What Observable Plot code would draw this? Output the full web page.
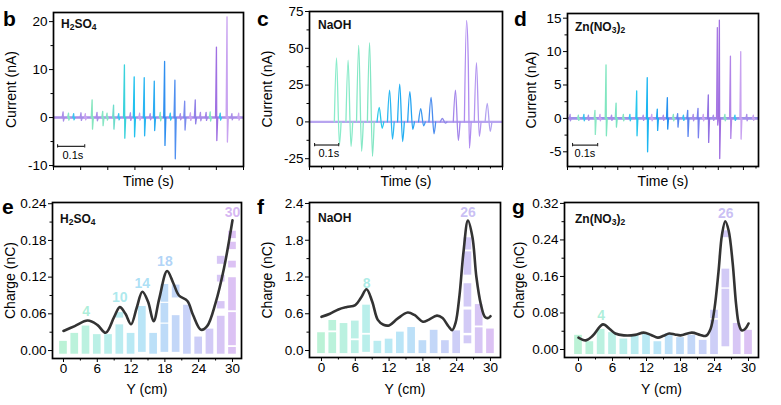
<!DOCTYPE html>
<html><head><meta charset="utf-8">
<script src="https://cdn.jsdelivr.net/npm/d3@7"></script>
<script src="https://cdn.jsdelivr.net/npm/@observablehq/plot@0.6"></script>
<style>
body{margin:0;background:#fff;}
#fig{position:relative;width:781px;height:405px;overflow:hidden;background:#fff;font-family:"Liberation Sans",Arial,Helvetica,sans-serif;}
.panel{position:absolute;}
.panel svg{background:transparent;overflow:visible;}
.letter{position:absolute;font-weight:bold;font-size:21px;line-height:21px;color:#000;}
.tag{position:absolute;font-weight:bold;font-size:12px;line-height:12px;color:#111;white-space:nowrap;}
.tag sub{font-size:8.5px;vertical-align:-2px;line-height:0;}
</style></head><body><div id="fig"></div>
<script>
// ---------- top row: current traces ----------
const bTime   = [0.143,0.182,0.222,0.262,0.298,0.335,0.372,0.410,0.448,0.484,0.523,0.563,0.601,0.640];
const bPeak   = [3.7,1.3,2.6,11.0,8.5,8.3,7.6,11.7,7.8,3.4,3.7,1.1,14.7,21.0];
const bTrough = [-2.4,-1.7,-2.4,-4.3,-4.0,-3.8,-2.7,-5.8,-8.6,-2.6,-1.3,-0.6,-4.8,-5.1];
const bRippleTime = [0.036,0.056,0.075,0.102,0.118,0.161,0.198,0.241,0.284,0.318,0.357,0.394,0.431,0.468,0.505,0.542,0.578,0.615,0.658,0.683];
const bRippleAmp  = [1.2,0.9,0.8,1.0,0.8,1.1,0.9,0.8,1.0,0.9,0.8,1.1,0.9,0.8,1.0,1.1,1.2,0.9,0.8,0.9];

const cTime   = [0.112,0.160,0.204,0.249,0.289,0.332,0.374,0.416,0.461,0.504,0.551,0.605,0.651,0.692,0.737];
const cPeak   = [43.5,41.9,52.0,53.8,9.9,21.6,25.7,20.5,9.0,16.7,2.3,21.6,68.9,40.3,12.6];
const cShoulder = [null,null,null,null,null,null,null,null,null,null,null,null,41.9,null,null];
const cTrough = [-15.5,-16.7,-20.0,-23.4,-4.3,-11.7,-13.3,-5.0,-2.7,-8.1,-0.9,-12.6,-17.8,-9.9,-6.5];

const dTime   = [0.110,0.154,0.194,0.276,0.318,0.358,0.398,0.439,0.479,0.520,0.561,0.597,0.605,0.649,0.690];
const dPeak   = [1.2,8.0,2.3,4.1,6.1,1.4,3.1,0.7,1.2,1.5,3.5,13.6,14.7,9.3,10.0];
const dTrough = [-2.4,-2.6,-1.3,-2.6,-5.0,-1.8,-1.6,-1.3,-2.7,-2.9,-3.6,-1.0,-6.0,-3.0,-3.1];
const dRippleTime = [0.011,0.044,0.066,0.084,0.130,0.176,0.223,0.249,0.302,0.336,0.382,0.422,0.462,0.501,0.541,0.581,0.627,0.667,0.714,0.740];
const dRippleAmp  = [0.6,0.5,0.6,0.5,0.6,0.5,0.6,0.6,0.5,0.6,0.5,0.6,0.5,0.6,0.6,0.5,0.6,0.5,0.6,0.5];

const scaleBarLabel = "0.1s";

// ---------- bottom row: charge vs Y ----------
const yPositions = [0,2,4,6,8,10,12,14,16,18,20,22,24,26,28,30];
const eSegments = [
  [[-0.006,0.015]],[[-0.006,0.028]],[[-0.006,0.040]],[[-0.006,0.026]],[[-0.006,0.026]],
  [[-0.006,0.042],[0.053,0.062]],[[-0.006,0.028]],[[-0.003,0.072]],[[-0.006,0.028]],
  [[-0.003,0.043],[0.045,0.077],[0.079,0.108]],[[-0.003,0.057],[0.086,0.107]],
  [[-0.006,0.074]],[[-0.006,0.022]],[[-0.006,0.035]],
  [[-0.006,0.056],[0.068,0.080],[0.112,0.123],[0.141,0.154]],
  [[-0.006,0.005],[0.008,0.062],[0.065,0.119],[0.135,0.146],[0.165,0.177],[0.183,0.195]]
];
const eCurveX = [0,2,4.3,6,7.5,9,10,11,12,13,14,15,16,17,18.4,19.5,20.5,22,23,24.4,25.5,27,28.5,30];
const eCurveY = [0.032,0.040,0.049,0.042,0.029,0.055,0.071,0.060,0.043,0.070,0.096,0.080,0.048,0.085,0.130,0.110,0.090,0.081,0.058,0.034,0.040,0.078,0.135,0.213];
const eLabelX = [4,10,14,18,30];
const eLabelY = [0.063,0.086,0.110,0.146,0.226];

const fSegments = [
  [[-0.05,0.29]],[[-0.05,0.29],[0.32,0.49]],[[-0.05,0.44]],[[-0.05,0.16],[0.19,0.48]],
  [[-0.03,0.25],[0.28,0.74]],[[-0.05,0.15]],[[-0.05,0.185]],[[-0.05,0.30]],[[-0.05,0.375]],
  [[-0.05,0.16]],[[-0.05,0.33]],[[-0.05,0.16]],[[-0.05,0.32]],
  [[0.11,0.24],[0.28,0.66],[0.71,1.09],[1.23,1.61],[1.64,1.84]],
  [[-0.05,0.37],[0.40,0.75]],[[-0.05,0.35]]
];
const fCurveX = [0,1.5,3,4.5,6,7,8,9,10,11,12,13.5,15.3,16.5,18,19,20.5,21.5,22.5,23.2,23.8,24.5,25.2,26,26.8,27.5,28.3,29,29.6,30];
const fCurveY = [0.55,0.60,0.67,0.71,0.74,0.86,1.00,0.80,0.50,0.42,0.41,0.52,0.62,0.58,0.47,0.50,0.57,0.53,0.40,0.33,0.45,0.90,1.60,2.12,1.85,1.20,0.75,0.55,0.53,0.56];
const fLabelX = [8,26];
const fLabelY = [1.10,2.26];

const gSegments = [
  [[-0.011,0.031]],[[-0.011,0.017]],[[-0.011,0.044]],[[-0.011,0.037]],[[-0.011,0.023]],
  [[-0.011,0.031]],[[-0.011,0.035]],[[-0.011,0.017]],[[-0.011,0.035]],[[-0.011,0.026]],
  [[-0.011,0.031]],[[-0.011,0.020]],[[-0.011,0.064],[0.068,0.086]],
  [[0.006,0.132],[0.135,0.176],[0.245,0.260]],[[-0.011,0.057]],[[-0.011,0.042]]
];
const gCurveX = [0,1.3,2.5,4.3,5.5,6.5,8,10,11.5,12.8,14,15,16,17,18,20,21.5,22.5,23.3,24,24.7,25.3,25.9,26.5,27.2,27.8,28.3,28.8,29.4,30];
const gCurveY = [0.026,0.020,0.030,0.055,0.045,0.035,0.031,0.032,0.037,0.032,0.026,0.030,0.035,0.033,0.031,0.037,0.032,0.030,0.045,0.090,0.170,0.250,0.281,0.260,0.190,0.100,0.055,0.042,0.045,0.057];
const gLabelX = [4,26];
const gLabelY = [0.075,0.298];

// ---------- styles ----------
const FONT = "'Liberation Sans', Arial, Helvetica, sans-serif";
const bColors = ["#86e6bf","#86e6c4","#6ddccb","#3ad2dc","#22c2ee","#2ab6f2","#2cacf2","#2f8ff0","#4f8ff0","#7a8cee","#9282e8","#a283e8","#a070e2","#c8a2f0"];
const cColors = ["#8aeccb","#88eac8","#86e8c6","#84e6c4","#28c8ea","#2cb8f2","#22aef2","#24a4f2","#3c98f0","#4a8cee","#8c88e8","#a486ea","#b08cf0","#b496f0","#b2a2f0"];
const dColors = ["#8ae8c4","#80e6c0","#7ae4c2","#26c6ee","#1cb6f2","#22aaf2","#2692f0","#5c88f0","#5a84f0","#7a80ee","#9272e2","#a878e4","#a070e0","#b184e8","#c8a2f0"];
const rippleColors = ["#a98de8","#86e6c4","#3ac4ee","#a98de8","#c8a2f0"];
const barInterp = d3.interpolateRgbBasis(["#78e6ae","#78e4cc","#72d6ee","#7ab8f4","#9c9cef","#ba86ea"]);

const fig = document.getElementById("fig");
function place(node, left, top) {
  const div = document.createElement("div");
  div.className = "panel";
  div.style.left = left + "px"; div.style.top = top + "px";
  div.appendChild(node); fig.appendChild(div);
}
function html(cls, left, top, inner) {
  const div = document.createElement("div");
  div.className = cls; div.style.left = left + "px"; div.style.top = top + "px";
  div.innerHTML = inner; fig.appendChild(div);
}
const rng = (a, b, s) => d3.range(a, b + s / 2, s);
const sharpShape = (t, p, tr) => [[t - 0.004, 0], [t - 0.0007, p], [t + 0.0007, tr], [t + 0.004, 0]];

function tracePanel(cfg) {
  const rows = [];
  if (cfg.rippleTime) {
    cfg.rippleTime.forEach((t, i) => {
      const a = cfg.rippleAmp[i];
      sharpShape(t, a, -0.6 * a).forEach(([x, v]) => rows.push({x, v, k: "r" + i, c: rippleColors[i % rippleColors.length]}));
    });
  }
  cfg.time.forEach((t, i) => {
    const p = cfg.peak[i], tr = cfg.trough[i];
    const s = cfg.shoulder ? cfg.shoulder[i] : null;
    let pts;
    if (cfg.sharp) pts = sharpShape(t, p, tr);
    else {
      pts = [[t - 0.009, 0], [t, p]];
      if (s != null) pts.push([t + 0.007, s]);
      pts.push([t + 0.012, tr], [t + 0.019, 0]);
    }
    pts.forEach(([x, v]) => rows.push({x, v, k: i, c: cfg.colors[i]}));
  });
  const [sb0, sbY, labX, labY] = cfg.bar;
  return Plot.plot({
    width: cfg.width, height: 195,
    marginLeft: cfg.m[0], marginRight: cfg.m[1], marginTop: cfg.m[2], marginBottom: cfg.m[3],
    style: {fontFamily: FONT, fontSize: "13.5px", color: "#000", background: "transparent"},
    x: {domain: cfg.xDomain},
    y: {domain: cfg.yDomain},
    color: {type: "identity"},
    marks: [
      Plot.ruleY([0], {stroke: cfg.base, strokeWidth: cfg.baseWidth}),
      Plot.line(rows, {x: "x", y: "v", z: "k", stroke: "c", strokeWidth: 1.3, curve: cfg.sharp ? "linear" : "monotone-x", clip: true}),
      Plot.ruleY([0], {x1: sb0, x2: sb0 + 0.1, y: sbY, stroke: "#222", strokeWidth: 1.2}),
      Plot.ruleX([sb0, sb0 + 0.1], {x: d => d, y1: sbY - cfg.cap, y2: sbY + cfg.cap, stroke: "#222", strokeWidth: 1.1}),
      Plot.text([scaleBarLabel], {x: labX, y: labY, text: d => d, textAnchor: "start", fontSize: 11}),
      Plot.axisY({ticks: cfg.yMajor, tickSize: 4, tickPadding: 2, tickFormat: d => String(d), label: null, fontSize: 13.5}),
      Plot.axisY({ticks: cfg.yMinor, tickSize: 2.5, tickFormat: () => "", label: null}),
      Plot.axisX({ticks: cfg.xMajor, tickSize: 4, tickFormat: () => "", label: null}),
      Plot.axisX({ticks: cfg.xMinor, tickSize: 2.5, tickFormat: () => "", label: null}),
      Plot.text(["Current (nA)"], {frameAnchor: "left", dx: cfg.ylabDx, rotate: -90, text: d => d, fontSize: 14, textAnchor: "middle", lineAnchor: "middle"}),
      Plot.text(["Time (s)"], {frameAnchor: "bottom", dy: 15, text: d => d, fontSize: 14, textAnchor: "middle", lineAnchor: "middle"}),
      Plot.frame({stroke: "#000", strokeWidth: 1.7})
    ]
  });
}

function chargePanel(cfg) {
  const rects = [];
  yPositions.forEach((pos, i) => {
    cfg.seg[i].forEach(([lo, hi]) => rects.push({x1: pos - 0.68, x2: pos + 0.68, y1: lo, y2: hi, c: barInterp(pos / 30)}));
  });
  const curve = cfg.cx.map((x, i) => ({x, y: cfg.cy[i]}));
  const labels = cfg.lx.map((x, i) => ({x, y: cfg.ly[i], t: String(x), c: barInterp(x / 30)}));
  return Plot.plot({
    width: cfg.width, height: 210,
    marginLeft: cfg.m[0], marginRight: cfg.m[1], marginTop: cfg.m[2], marginBottom: cfg.m[3],
    style: {fontFamily: FONT, fontSize: "13.5px", color: "#000", background: "transparent"},
    x: {domain: cfg.xDomain},
    y: {domain: cfg.yDomain},
    color: {type: "identity"},
    marks: [
      Plot.rect(rects, {x1: "x1", x2: "x2", y1: "y1", y2: "y2", fill: "c", fillOpacity: 0.5, clip: true}),
      Plot.line(curve, {x: "x", y: "y", stroke: "#333", strokeWidth: 2.6, curve: "catmull-rom", clip: true}),
      Plot.text(labels, {x: "x", y: "y", text: "t", fill: "c", fillOpacity: 0.6, fontWeight: "bold", fontSize: 14}),
      Plot.axisY({ticks: cfg.yMajor, tickSize: 4, tickPadding: 2, tickFormat: cfg.fmt, label: null, fontSize: 13.5}),
      Plot.axisY({ticks: cfg.yMinor, tickSize: 2.5, tickFormat: () => "", label: null}),
      Plot.axisX({ticks: rng(0, 30, 6), tickSize: 4, tickPadding: 1, tickFormat: d => String(d), label: null, fontSize: 13.5}),
      Plot.axisX({ticks: rng(3, 27, 6), tickSize: 2.5, tickFormat: () => "", label: null}),
      Plot.text(["Charge (nC)"], {frameAnchor: "left", dx: cfg.ylabDx, rotate: -90, text: d => d, fontSize: 14, textAnchor: "middle", lineAnchor: "middle"}),
      Plot.text(["Y (cm)"], {frameAnchor: "bottom", dy: cfg.xlabDy, text: d => d, fontSize: 14, textAnchor: "middle", lineAnchor: "middle"}),
      Plot.frame({stroke: "#000", strokeWidth: 1.7})
    ]
  });
}

place(tracePanel({time: bTime, peak: bPeak, trough: bTrough, colors: bColors, sharp: true, base: "#a98de8", baseWidth: 2.6,
  rippleTime: bRippleTime, rippleAmp: bRippleAmp,
  width: 260, m: [53, 17, 12, 29], xDomain: [0, 0.7], yDomain: [-10.2, 21.9],
  yMajor: [-10, 0, 10, 20], yMinor: [-5, 5, 15], xMajor: rng(0, 0.7, 0.1), xMinor: [],
  bar: [0.015, -6.0, 0.033, -7.8], cap: 0.35, ylabDx: -42}), 0, 0);

place(tracePanel({time: cTime, peak: cPeak, trough: cTrough, shoulder: cShoulder, colors: cColors, sharp: false, base: "#b7a4ef", baseWidth: 2.2,
  width: 260, m: [54, 13, 11, 29], xDomain: [0, 0.8], yDomain: [-30.3, 75],
  yMajor: [-25, 0, 25, 50, 75], yMinor: [-12.5, 12.5, 37.5, 62.5], xMajor: rng(0, 0.8, 0.1), xMinor: rng(0.05, 0.75, 0.1),
  bar: [0.021, -15.7, 0.037, -21.2], cap: 1.1, ylabDx: -42}), 255, 0);

place(tracePanel({time: dTime, peak: dPeak, trough: dTrough, colors: dColors, sharp: true, base: "#9d92ea", baseWidth: 2.6,
  rippleTime: dRippleTime, rippleAmp: dRippleAmp,
  width: 271, m: [57, 23, 13, 29], xDomain: [0, 0.76], yDomain: [-7.2, 15.7],
  yMajor: [-5, 0, 5, 10, 15], yMinor: [-2.5, 2.5, 7.5, 12.5], xMajor: rng(0, 0.7, 0.1), xMinor: rng(0.05, 0.75, 0.1),
  bar: [0.02, -4.0, 0.028, -5.3], cap: 0.25, ylabDx: -36}), 510, 0);

place(chargePanel({seg: eSegments, cx: eCurveX, cy: eCurveY, lx: eLabelX, ly: eLabelY,
  width: 260, m: [52, 19, 7, 47], xDomain: [-1.95, 31.6], yDomain: [-0.013, 0.242], xlabDy: 31,
  yMajor: rng(0, 0.24, 0.06), yMinor: rng(0.03, 0.21, 0.06), fmt: d3.format(".2f"), ylabDx: -42}), 0, 195);

place(chargePanel({seg: fSegments, cx: fCurveX, cy: fCurveY, lx: fLabelX, ly: fLabelY,
  width: 260, m: [54, 15, 7, 48], xDomain: [-2.13, 31.78], yDomain: [-0.114, 2.416], xlabDy: 32,
  yMajor: rng(0, 2.4, 0.6), yMinor: rng(0.3, 2.1, 0.6), fmt: d3.format(".1f"), ylabDx: -42}), 255, 195);

place(chargePanel({seg: gSegments, cx: gCurveX, cy: gCurveY, lx: gLabelX, ly: gLabelY,
  width: 271, m: [54, 23, 7, 48], xDomain: [-2.47, 31.76], yDomain: [-0.0175, 0.322], xlabDy: 32,
  yMajor: rng(0, 0.32, 0.08), yMinor: rng(0.04, 0.28, 0.08), fmt: d3.format(".2f"), ylabDx: -45}), 510, 195);

// panel letters and electrolyte tags
html("letter", 3, 8, "b");
html("letter", 257, 8, "c");
html("letter", 514, 8, "d");
html("letter", 2, 196, "e");
html("letter", 257, 196, "f");
html("letter", 512, 196, "g");
const H2SO4 = "H<sub>2</sub>SO<sub>4</sub>", NaOH = "NaOH", ZnNO3 = "Zn(NO<sub>3</sub>)<sub>2</sub>";
html("tag", 61, 18, H2SO4);
html("tag", 318, 19, NaOH);
html("tag", 575, 21, ZnNO3);
html("tag", 60, 213, H2SO4);
html("tag", 318, 212, NaOH);
html("tag", 575, 213, ZnNO3);
</script></body></html>
